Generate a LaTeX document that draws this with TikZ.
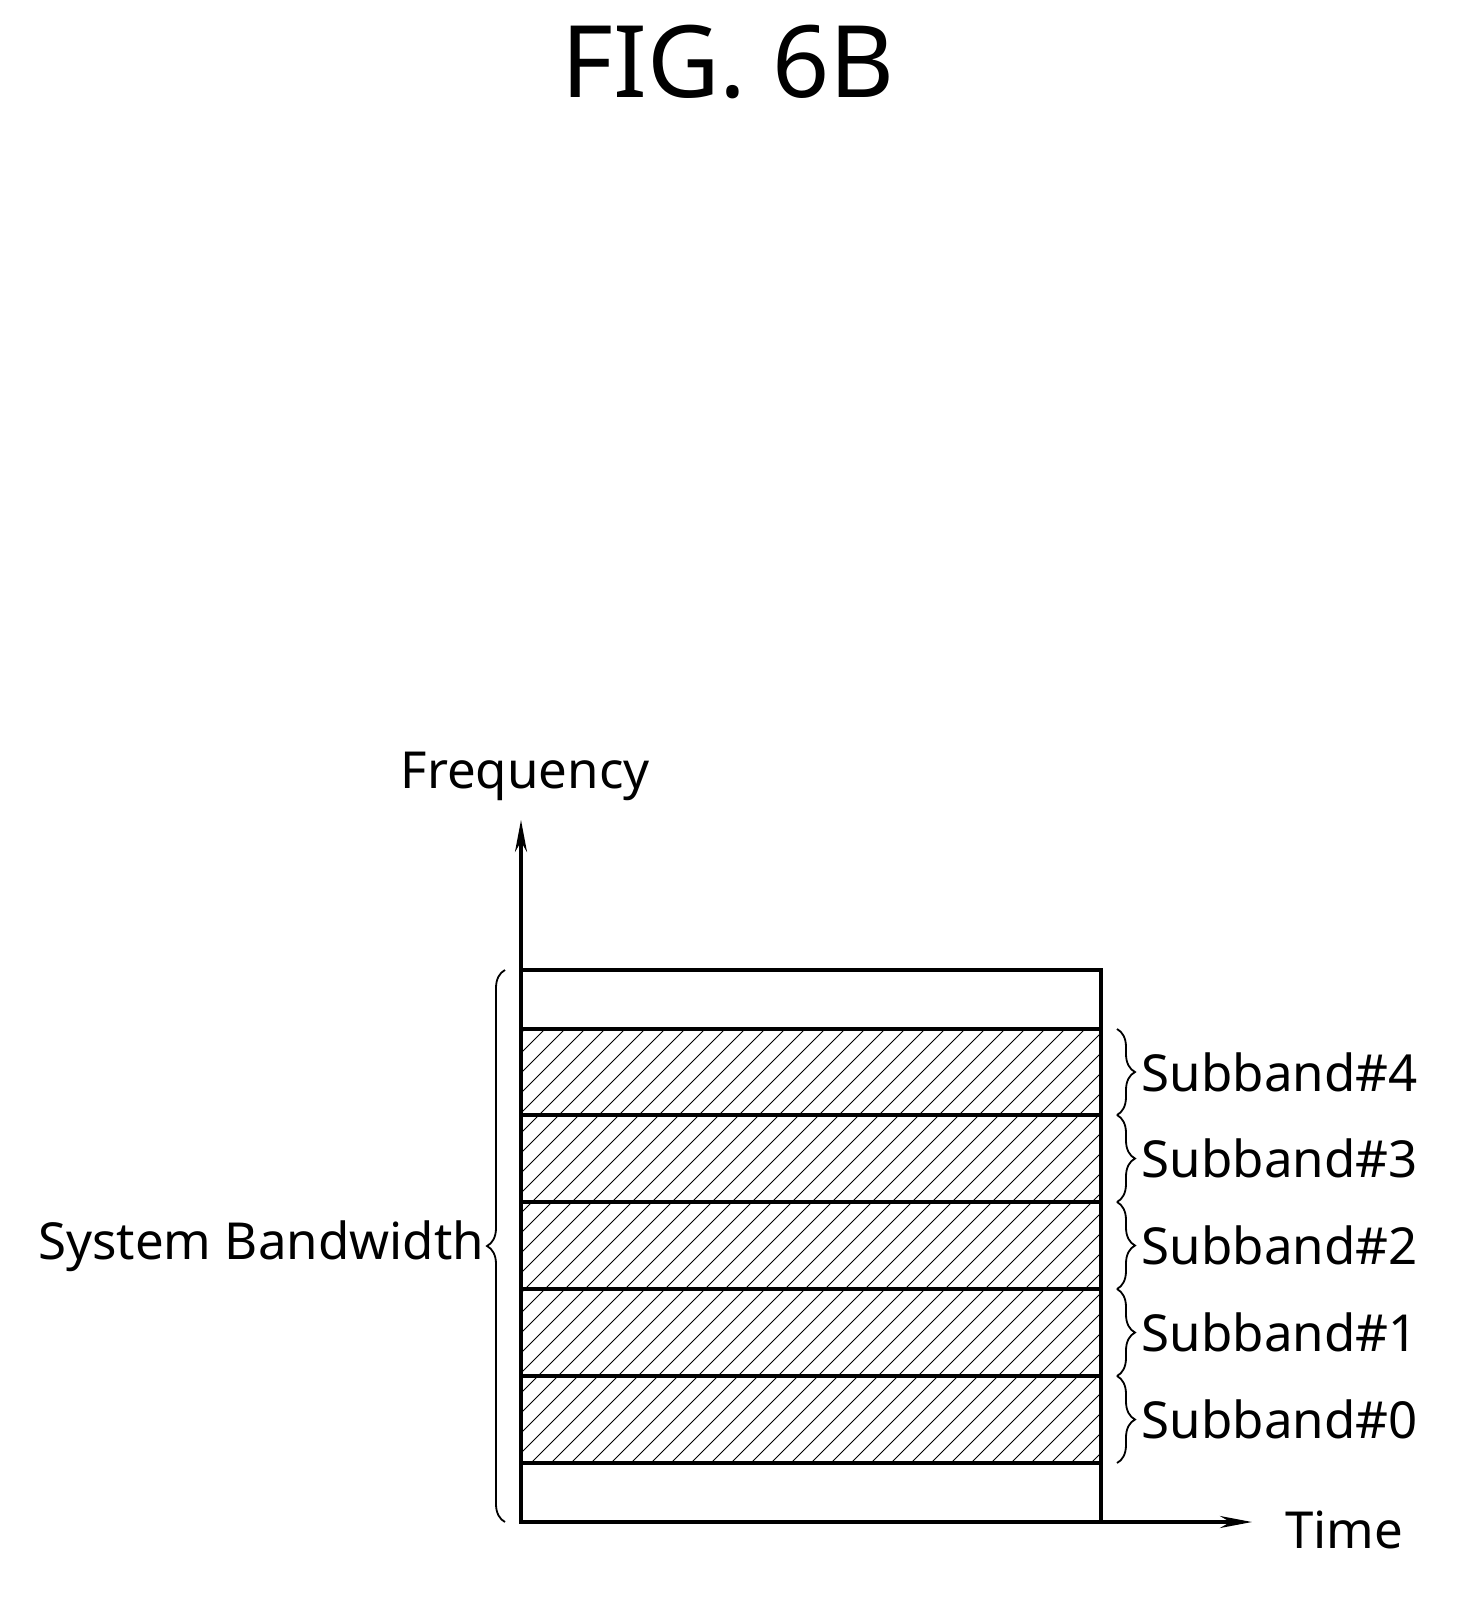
\documentclass[tikz,border=0pt]{standalone}
\usepackage{fontspec}
\setmainfont{Noto Sans}
\usetikzlibrary{decorations.pathreplacing,arrows.meta}
\begin{document}
\begin{tikzpicture}[x=0.5pt,y=-0.5pt,
  thick line/.style={line width=1.8pt},
  lbl/.style={font=\fontsize{25.5}{28}\selectfont},
  brace/.style={decorate,decoration={brace,amplitude=9pt},line width=0.9pt}]
\useasboundingbox (0,0) rectangle (1473,1603);
\node (title) at (728,62) {\fontsize{50}{56}\selectfont FIG. 6B};
% hatch
\begin{scope}
\clip (521,1029) rectangle (1101,1463);
\foreach \i in {0,...,60} {
  \draw[line width=0.5pt] ({521-450+\i*20},1463) -- ++(450,-450);
}
\end{scope}
\draw[thick line] (521,970) rectangle (1101,1522);
\foreach \y in {1029,1115,1202,1289,1376,1463} \draw[thick line] (521,\y) -- (1101,\y);
\coordinate (o) at (521,1522);
\coordinate (ytip) at (521,820);
\coordinate (xtip) at (1252,1522);
\draw[thick line,-{Stealth[length=16pt,width=6pt]}] (o) -- (ytip);
\draw[thick line,-{Stealth[length=16pt,width=6pt]}] (o) -- (xtip);
\node[lbl] (freq) at (525,776) {Frequency};
\node[lbl,anchor=west] (time) at (1278,1530) {Time};
\draw[brace] (505,1522) -- (505,970) node[midway,left=10pt,lbl,inner sep=0pt] {System Bandwidth};
\foreach \a/\b/\n in {1029/1115/4,1115/1202/3,1202/1289/2,1289/1376/1,1376/1463/0}
  \draw[brace] (1117,\a) -- (1117,\b) node[midway,right=12pt,lbl,inner sep=0pt] {Subband\#\n};
\end{tikzpicture}
\end{document}
